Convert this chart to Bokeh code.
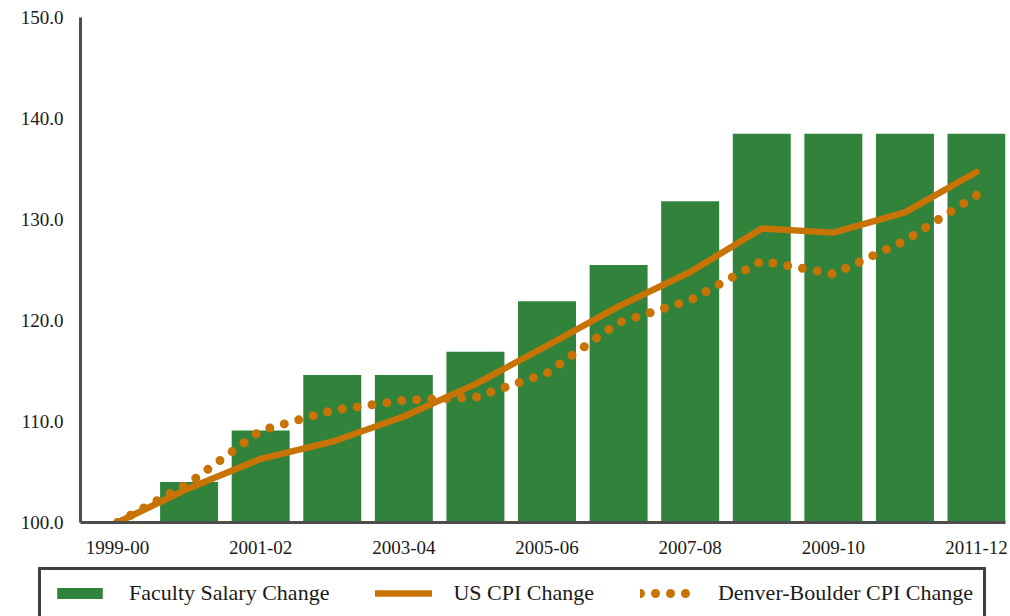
from bokeh.plotting import figure
from bokeh.layouts import column
from bokeh.models import Legend, LegendItem, FixedTicker, ColumnDataSource, Range1d
from bokeh.embed import file_html
from bokeh.resources import INLINE

categories = ["1999-00", "2000-01", "2001-02", "2002-03", "2003-04", "2004-05",
              "2005-06", "2006-07", "2007-08", "2008-09", "2009-10", "2010-11", "2011-12"]
faculty_salary = [100.0, 104.0, 109.1, 114.6, 114.6, 116.9, 121.9, 125.5, 131.8, 138.5, 138.5, 138.5, 138.5]
us_cpi = [100.0, 103.4, 106.3, 108.0, 110.5, 113.7, 117.5, 121.4, 124.8, 129.1, 128.7, 130.7, 134.7]
denver_boulder_cpi = [100.0, 103.9, 109.1, 111.1, 112.1, 112.4, 114.8, 119.8, 122.0, 125.9, 124.6, 127.9, 132.4]
y_ticks = [100, 110, 120, 130, 140, 150]
series_names = ["Faculty Salary Change", "US CPI Change", "Denver-Boulder CPI Change"]

GREEN = "#31833b"
ORANGE = "#c87305"
FONT = "Liberation Serif"

bar_style = dict(fill_color=GREEN, line_color=None)
us_style = dict(line_color=ORANGE, line_width=6.5, line_join="round", line_cap="round")
den_style = dict(line_color=ORANGE, line_width=9, line_dash="0 15", line_cap="round")

x = list(range(len(categories)))
src = ColumnDataSource(dict(x=x, cat=categories, fac=faculty_salary,
                            us=us_cpi, den=denver_boulder_cpi))

p = figure(width=1010, height=562, output_backend="svg", toolbar_location=None,
           x_range=Range1d(-0.517, 12.405), y_range=Range1d(100, 150),
           min_border_left=80, min_border_right=5, min_border_top=17, min_border_bottom=40)
p.outline_line_color = None
p.grid.visible = False
p.frame_align = False

p.vbar(x="x", top="fac", bottom=y_ticks[0], width=0.81, source=src, **bar_style)
p.line("x", "us", source=src, **us_style)
p.line("x", "den", source=src, **den_style)

for ax in (p.xaxis[0], p.yaxis[0]):
    ax.axis_line_width = 3
    ax.axis_line_color = "#4d4d4d"
    ax.major_tick_line_color = None
    ax.minor_tick_line_color = None
    ax.major_tick_out = 0
    ax.major_tick_in = 0
    ax.major_label_text_font = FONT
    ax.major_label_text_font_size = "19px"
    ax.major_label_text_color = "#1a1a1a"

p.xaxis.ticker = FixedTicker(ticks=x[::2])
p.xaxis.major_label_overrides = {i: categories[i] for i in x[::2]}
p.xaxis.major_label_standoff = 18
p.yaxis.ticker = FixedTicker(ticks=y_ticks)
p.yaxis.major_label_overrides = {v: f"{v:.1f}" for v in y_ticks}
p.yaxis.major_label_standoff = 17

# legend strip below the chart (its own renderers share the data but lie outside its view)
q = figure(width=1010, height=54, output_backend="svg", toolbar_location=None,
           x_axis_type=None, y_axis_type=None, min_border=0,
           x_range=Range1d(1000, 1001), y_range=Range1d(1000, 1001))
q.outline_line_color = None
q.grid.visible = False
q.frame_align = False
r_bar = q.vbar(x="x", top="fac", bottom=y_ticks[0], width=0.81, source=src, **bar_style)
r_us = q.line("x", "us", source=src, **us_style)
r_den = q.line("x", "den", source=src, **den_style)

legend = Legend(items=[
    LegendItem(label=series_names[0], renderers=[r_bar]),
    LegendItem(label=series_names[1], renderers=[r_us]),
    LegendItem(label=series_names[2], renderers=[r_den]),
], orientation="horizontal", location=(38, -3))
legend.label_text_font = FONT
legend.label_text_font_size = "22px"
legend.label_text_color = "#1a1a1a"
legend.glyph_width = 57
legend.glyph_height = 14
legend.label_standoff = 21
legend.spacing = 46
legend.padding = 10
legend.margin = 0
legend.border_line_color = "#404040"
legend.border_line_width = 3
legend.border_line_alpha = 1
legend.background_fill_color = "white"
legend.background_fill_alpha = 1
q.add_layout(legend, "center")

layout = column(p, q, spacing=0)
open("out.html", "w").write(file_html(layout, INLINE))
